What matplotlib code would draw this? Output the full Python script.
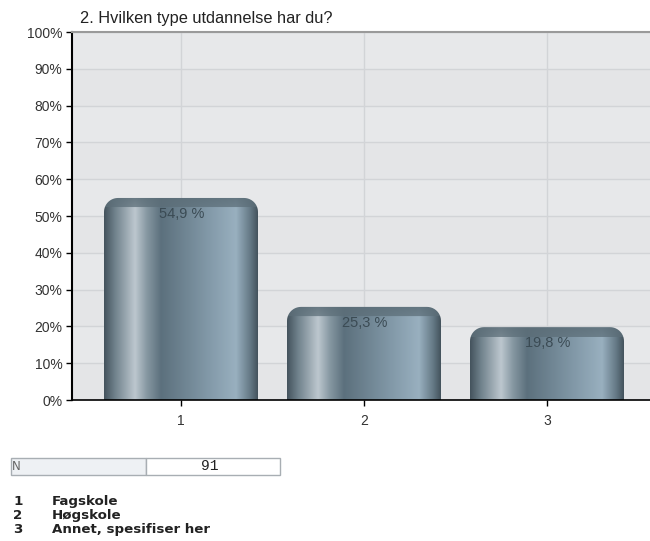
import numpy as np
import matplotlib
matplotlib.use("Agg")
import matplotlib.pyplot as plt
from matplotlib.path import Path
from matplotlib.patches import PathPatch, Rectangle

categories = ["1", "2", "3"]
values = [54.9, 25.3, 19.8]
value_labels = ["54,9 %", "25,3 %", "19,8 %"]
legend_names = ["Fagskole", "Høgskole", "Annet, spesifiser her"]
n_total = 91
title = "2. Hvilken type utdannelse har du?"
yticks = list(range(0, 101, 10))

W, H, DPI = 650, 541, 100
fig = plt.figure(figsize=(W / DPI, H / DPI), dpi=DPI)
fig.patch.set_facecolor("white")

ax_left, ax_right, ax_top, ax_bot = 72, 650, 32, 400
ax = fig.add_axes([ax_left / W, 1 - ax_bot / H, (ax_right - ax_left) / W, (ax_bot - ax_top) / H])
spacing_px = 183.0
x0 = 1 - (181 - ax_left) / spacing_px
x1 = 3 + (ax_right - 547) / spacing_px
ax.set_xlim(x0, x1)
ax.set_ylim(0, 100)
ax.set_facecolor("#e6e7e9")

# alternating background bands
for i, y in enumerate(yticks[:-1]):
    ax.axhspan(y, y + 10, color="#e7e8ea" if i % 2 else "#e4e5e7", lw=0, zorder=0)

ax.set_yticks(yticks)
ax.set_yticklabels([f"{t}%" for t in yticks])
xpos = np.arange(1, len(categories) + 1)
ax.set_xticks(xpos)
ax.set_xticklabels(categories)
ax.grid(True, color="#d2d4d7", lw=1, zorder=0.5)
ax.set_axisbelow(True)
ax.spines["right"].set_visible(False)
ax.spines["top"].set_color("#9a9a9a")
ax.spines["top"].set_linewidth(1.5)
ax.spines["left"].set_color("black")
ax.spines["left"].set_linewidth(1.5)
ax.spines["bottom"].set_color("black")
ax.spines["bottom"].set_linewidth(1.2)
ax.tick_params(axis="both", colors="black", length=4, width=1,
               labelsize=10, labelcolor="#333333")
ax.tick_params(axis="x", pad=6)
ax.tick_params(axis="y", pad=3)
for lab in ax.get_xticklabels() + ax.get_yticklabels():
    lab.set_fontfamily("Liberation Sans")

px_per_x = (ax_right - ax_left) / (x1 - x0)
px_per_y = (ax_bot - ax_top) / 100.0
bar_w = 154 / px_per_x
rad_px = 14.0
rx, ry = rad_px / px_per_x, rad_px / px_per_y
cap_px = 10.0

# horizontal shading profile of a bar (position, rgb)
stops = [
    (0.00, (0.27, 0.33, 0.37)),
    (0.07, (0.44, 0.51, 0.55)),
    (0.20, (0.74, 0.78, 0.81)),
    (0.28, (0.52, 0.59, 0.63)),
    (0.37, (0.36, 0.44, 0.49)),
    (0.70, (0.52, 0.61, 0.67)),
    (0.86, (0.60, 0.69, 0.75)),
    (0.95, (0.40, 0.48, 0.53)),
    (1.00, (0.27, 0.33, 0.37)),
]
sp = np.array([s[0] for s in stops])
sc = np.array([s[1] for s in stops])


def rounded_top_path(xl, xr, top):
    verts, codes = [(xl, 0)], [Path.MOVETO]
    verts.append((xl, top - ry)); codes.append(Path.LINETO)
    for a in np.linspace(np.pi, np.pi / 2, 12):
        verts.append((xl + rx + rx * np.cos(a), top - ry + ry * np.sin(a))); codes.append(Path.LINETO)
    for a in np.linspace(np.pi / 2, 0, 12):
        verts.append((xr - rx + rx * np.cos(a), top - ry + ry * np.sin(a))); codes.append(Path.LINETO)
    verts.append((xr, 0)); codes.append(Path.LINETO)
    verts.append((xl, 0)); codes.append(Path.CLOSEPOLY)
    return Path(verts, codes)


for xc, v, lab in zip(xpos, values, value_labels):
    xl, xr = xc - bar_w / 2, xc + bar_w / 2
    hpx = int(round(v * px_per_y))
    ncol = 160
    u = np.linspace(0, 1, ncol)
    row = np.stack([np.interp(u, sp, sc[:, k]) for k in range(3)], axis=-1)
    img = np.repeat(row[None, :, :], hpx, axis=0)
    # darker cap at the top of each bar
    rows = np.arange(hpx)[:, None]
    cap = np.clip(1 - rows / cap_px, 0, 1)
    cap_col = np.array([0.36, 0.43, 0.47])
    mix = np.where(rows < cap_px, 0.72 + 0.15 * cap, 0.0)
    mix = np.broadcast_to(mix, (hpx, ncol))[..., None]
    img = img * (1 - mix) + cap_col * mix
    im = ax.imshow(img, extent=(xl, xr, 0, v), aspect="auto", origin="upper",
                   interpolation="bilinear", zorder=2)
    patch = PathPatch(rounded_top_path(xl, xr, v), fc="none", ec="none", transform=ax.transData)
    ax.add_patch(patch)
    im.set_clip_path(patch)
    ax.text(xc + 0.005, v - 16 / px_per_y, lab, ha="center", va="center", fontsize=10.5,
            color="#3b4b54", family="Liberation Sans", zorder=3)

ax.set_xlim(x0, x1)
ax.set_ylim(0, 100)

fig.text(80 / W, 1 - 18 / H, title, fontsize=11.8, color="#222222",
         family="Liberation Sans", va="center", ha="left")

# N table
tab_y0, tab_y1 = 458, 475
fig.patches.append(Rectangle((11 / W, 1 - tab_y1 / H), 135 / W, (tab_y1 - tab_y0) / H,
                             transform=fig.transFigure, fc="#eef1f4", ec="#a8aeb3", lw=1))
fig.patches.append(Rectangle((146 / W, 1 - tab_y1 / H), 134 / W, (tab_y1 - tab_y0) / H,
                             transform=fig.transFigure, fc="white", ec="#a8aeb3", lw=1))
fig.text(12 / W, 1 - 466.5 / H, "N", fontsize=8.5, color="#666666", family="DejaVu Sans",
         va="center", ha="left")
fig.text(210 / W, 1 - 466.5 / H, str(n_total), fontsize=10.5, color="#222222",
         family="Liberation Mono", va="center", ha="center")

# category legend
for i, name in enumerate(legend_names):
    y = 1 - (501.5 + 14 * i) / H
    fig.text(13 / W, y, categories[i], fontsize=9.6, fontweight="bold", color="#222222",
             family="DejaVu Sans", va="center", ha="left")
    fig.text(52 / W, y, name, fontsize=9.6, fontweight="bold", color="#222222",
             family="DejaVu Sans", va="center", ha="left")

fig.savefig("out.png", dpi=DPI)
